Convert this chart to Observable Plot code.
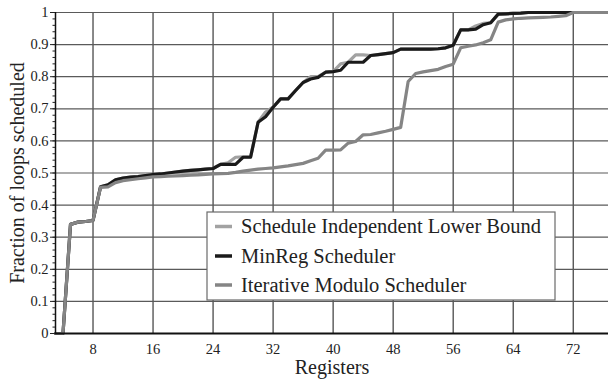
<!DOCTYPE html>
<html><head><meta charset="utf-8">
<script src="https://cdn.jsdelivr.net/npm/d3@7"></script>
<script src="https://cdn.jsdelivr.net/npm/@observablehq/plot@0.6"></script>
<style>body{margin:0;background:#fff} svg{display:block}</style>
</head><body><div id="chart"></div>
<script>
const registers = [3,4,5,6,7,8,9,10,11,12,13,14,15,16,17,18,19,20,21,22,23,24,25,26,27,28,29,30,31,32,33,34,35,36,37,38,39,40,41,42,43,44,45,46,47,48,49,50,51,52,53,54,55,56,57,58,59,60,61,62,63,64,65,66,67,68,69,70,71,72,73,74,75,76,77];
const lowerBound = [0,0,0.340,0.347,0.349,0.352,0.457,0.463,0.479,0.484,0.487,0.489,0.492,0.495,0.497,0.500,0.503,0.506,0.508,0.510,0.512,0.514,0.527,0.532,0.549,0.550,0.550,0.658,0.690,0.705,0.731,0.731,0.757,0.782,0.800,0.800,0.814,0.816,0.840,0.845,0.868,0.868,0.866,0.869,0.872,0.875,0.886,0.886,0.886,0.886,0.886,0.887,0.890,0.898,0.946,0.946,0.958,0.966,0.968,0.995,0.996,0.997,0.998,1,1,1,1,1,1,1,1,1,1,1,1];
const minReg = [0,0,0.340,0.347,0.349,0.352,0.457,0.463,0.479,0.484,0.487,0.489,0.492,0.495,0.497,0.500,0.503,0.506,0.508,0.510,0.512,0.514,0.527,0.527,0.527,0.549,0.549,0.658,0.675,0.705,0.731,0.731,0.757,0.782,0.793,0.798,0.814,0.816,0.820,0.845,0.845,0.845,0.866,0.869,0.872,0.875,0.886,0.886,0.886,0.886,0.886,0.887,0.890,0.898,0.946,0.946,0.948,0.962,0.968,0.995,0.996,0.997,0.998,1,1,1,1,1,1,1,1,1,1,1,1];
const iterModulo = [0,0,0.340,0.347,0.349,0.352,0.455,0.457,0.470,0.476,0.479,0.482,0.485,0.488,0.489,0.490,0.491,0.492,0.493,0.494,0.496,0.497,0.498,0.499,0.502,0.506,0.509,0.512,0.514,0.516,0.519,0.522,0.526,0.530,0.538,0.546,0.571,0.571,0.572,0.593,0.598,0.619,0.620,0.625,0.630,0.636,0.642,0.785,0.810,0.815,0.819,0.823,0.832,0.839,0.890,0.895,0.899,0.906,0.915,0.970,0.977,0.980,0.982,0.983,0.984,0.985,0.986,0.988,0.990,1,1,1,1,1,1];
const seriesNames = ["Schedule Independent Lower Bound", "MinReg Scheduler", "Iterative Modulo Scheduler"];
const seriesColors = ["#a2a2a2", "#1a1a1a", "#858585"];
const xTicks = [8, 16, 24, 32, 40, 48, 56, 64, 72];
const yTicks = [0, 0.1, 0.2, 0.3, 0.4, 0.5, 0.6, 0.7, 0.8, 0.9, 1];
const yTickLabels = ["0", "0.1", "0.2", "0.3", "0.4", "0.5", "0.6", "0.7", "0.8", "0.9", "1"];
const xLabel = "Registers";
const yLabel = "Fraction of loops scheduled";

const yMinor = d3.range(0, 1.0001, 0.02);
const toRows = vals => registers.map((r, i) => ({x: r, y: vals[i]}));
const yFmt = new Map(yTicks.map((t, i) => [t, yTickLabels[i]]));
const FONT = "'Liberation Serif', 'Times New Roman', serif";

const W = 608, H = 381, ML = 55, MR = 0, MT = 12, MB = 48;

const chart = Plot.plot({
  width: W, height: H,
  marginLeft: ML, marginRight: MR, marginTop: MT, marginBottom: MB,
  x: {domain: [3, 76.7]},
  y: {domain: [0, 1]},
  style: {fontFamily: FONT, fontSize: "14.5px", color: "#222", background: "#fff"},
  marks: [
    Plot.ruleX(xTicks, {stroke: "#3a3a3a", strokeWidth: 1.2}),
    Plot.ruleY(yTicks.slice(1), {stroke: "#5a5a5a", strokeWidth: 1.2}),
    Plot.line(toRows(lowerBound), {x: "x", y: "y", stroke: seriesColors[0], strokeWidth: 3.2}),
    Plot.line(toRows(minReg), {x: "x", y: "y", stroke: seriesColors[1], strokeWidth: 3.2}),
    Plot.line(toRows(iterModulo), {x: "x", y: "y", stroke: seriesColors[2], strokeWidth: 3.2}),
    Plot.ruleX([3], {stroke: "#111", strokeWidth: 1.5}),
    Plot.ruleY([0], {stroke: "#111", strokeWidth: 2}),
    Plot.axisY({ticks: yTicks, tickFormat: d => yFmt.get(d), tickSize: 5, tickPadding: 2, label: null}),
    Plot.axisY({ticks: yMinor, tickSize: 2.5, tickFormat: () => "", label: null}),
    Plot.axisX({ticks: xTicks, tickSize: 0, tickPadding: 10, label: null}),
    Plot.text([xLabel], {frameAnchor: "bottom", dy: 34, fontSize: 20, fill: "#222", textAnchor: "middle", lineAnchor: "middle", text: d => d}),
    Plot.text([yLabel], {frameAnchor: "left", dx: -38, rotate: -90, fontSize: 20, fill: "#222", textAnchor: "middle", lineAnchor: "middle", text: d => d})
  ]
});
document.getElementById("chart").appendChild(chart);

// legend box inside the plot area
const svg = d3.select(chart);
const lg = svg.append("g");
const box = {x: 207, y: 212, w: 348, h: 88};
lg.append("rect").attr("x", box.x).attr("y", box.y).attr("width", box.w).attr("height", box.h)
  .attr("fill", "#fff").attr("stroke", "#6a6a6a").attr("stroke-width", 1.2);
const rowY = [226.5, 256, 285];
seriesNames.forEach((name, i) => {
  lg.append("line").attr("x1", 215).attr("x2", 232).attr("y1", rowY[i]).attr("y2", rowY[i])
    .attr("stroke", seriesColors[i]).attr("stroke-width", 3.5);
  lg.append("text").attr("x", 241).attr("y", rowY[i]).attr("dy", "0.33em")
    .attr("text-anchor", "start")
    .attr("font-size", 20.5).attr("fill", "#222")
    .attr("font-family", FONT).text(name);
});
</script>
</body></html>
